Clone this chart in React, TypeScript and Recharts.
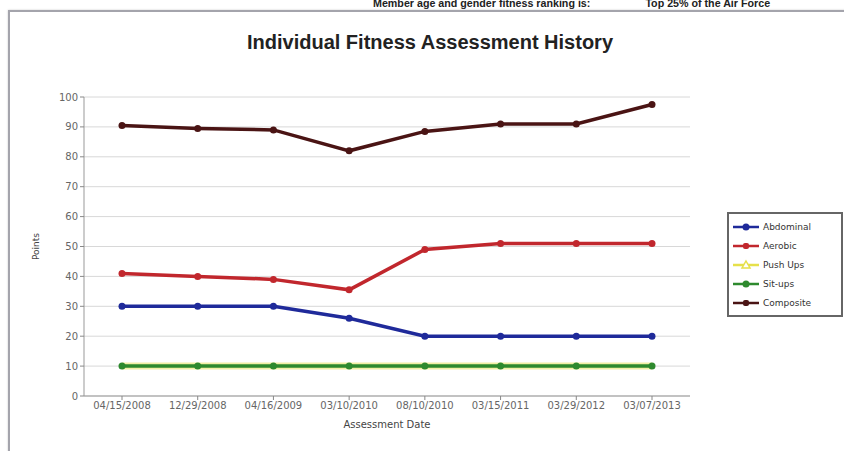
import { LineChart, Line, XAxis, YAxis, CartesianGrid, Label } from "recharts";

// --------------------
// Data
// --------------------
const dates = [
  "04/15/2008",
  "12/29/2008",
  "04/16/2009",
  "03/10/2010",
  "08/10/2010",
  "03/15/2011",
  "03/29/2012",
  "03/07/2013",
];
const abdominal = [30, 30, 30, 26, 20, 20, 20, 20];
const aerobic = [41, 40, 39, 35.5, 49, 51, 51, 51];
const pushUps = [10, 10, 10, 10, 10, 10, 10, 10];
const sitUps = [10, 10, 10, 10, 10, 10, 10, 10];
const composite = [90.5, 89.5, 89, 82, 88.5, 91, 91, 97.5];
const yTicks = [0, 10, 20, 30, 40, 50, 60, 70, 80, 90, 100];

const data = dates.map((d, i) => ({
  date: d,
  abdominal: abdominal[i],
  aerobic: aerobic[i],
  pushUps: pushUps[i],
  sitUps: sitUps[i],
  composite: composite[i],
}));

const series = [
  { key: "abdominal", name: "Abdominal", color: "#1f2a9a", marker: "circle" },
  { key: "aerobic", name: "Aerobic", color: "#c1272d", marker: "square" },
  { key: "pushUps", name: "Push Ups", color: "#e6e04a", marker: "triangle" },
  { key: "sitUps", name: "Sit-ups", color: "#2e8a2e", marker: "circle" },
  { key: "composite", name: "Composite", color: "#4a1414", marker: "square" },
];

const tickFont = { fontSize: 10, fill: "#666", fontFamily: "DejaVu Sans" };

// --------------------
// Markers
// --------------------
function Marker({ cx, cy, color, kind }: { cx?: number; cy?: number; color: string; kind: string }) {
  if (cx == null || cy == null) return null;
  if (kind === "none") return null;
  if (kind === "triangle")
    return <path d={`M${cx},${cy - 4} L${cx + 4},${cy + 3} L${cx - 4},${cy + 3} Z`} fill="#fff" stroke={color} strokeWidth={1.5} />;
  if (kind === "square")
    return <rect x={cx - 3} y={cy - 3} width={6} height={6} rx={2} fill={color} />;
  return <circle cx={cx} cy={cy} r={3.5} fill={color} />;
}

// --------------------
// Legend box
// --------------------
function LegendBox() {
  return (
    <div
      style={{
        position: "absolute",
        left: 727,
        top: 212,
        border: "2px solid #666",
        background: "#fff",
        width: 112,
        padding: "3px 0",
        fontFamily: "DejaVu Sans",
        fontSize: 9,
        color: "#333",
      }}
    >
      {series.map((s) => (
        <div key={s.key} style={{ display: "flex", alignItems: "center", height: 19 }}>
          <svg width={28} height={12} style={{ marginLeft: 3 }}>
            <line x1={1} y1={6} x2={27} y2={6} stroke={s.color} strokeWidth={2.5} />
            <Marker cx={14} cy={6} color={s.color} kind={s.marker} />
          </svg>
          <span style={{ marginLeft: 3 }}>{s.name}</span>
        </div>
      ))}
    </div>
  );
}

// --------------------
// Main chart
// --------------------
export default function App() {
  return (
    <div style={{ position: "absolute", left: 0, top: 0, width: 844, height: 451, background: "#fff", overflow: "hidden" }}>
      <div
        style={{
          position: "absolute",
          top: -3,
          left: 373,
          fontFamily: "Liberation Sans",
          fontWeight: "bold",
          fontSize: 10.7,
          color: "#222",
          whiteSpace: "nowrap",
        }}
      >
        Member age and gender fitness ranking is:
        <span style={{ marginLeft: 55 }}>Top 25% of the Air Force</span>
      </div>
      <div
        style={{
          position: "absolute",
          left: 8,
          top: 10,
          width: 850,
          height: 460,
          border: "2px solid #a4a4ac",
          boxShadow: "0 0 2px #ccc",
        }}
      />
      <div
        style={{
          position: "absolute",
          top: 31,
          left: 0,
          width: 860,
          textAlign: "center",
          fontFamily: "Liberation Sans",
          fontWeight: "bold",
          fontSize: 20,
          color: "#222",
        }}
      >
        Individual Fitness Assessment History
      </div>
      <div style={{ position: "absolute", left: 0, top: 0 }}>
        <LineChart width={844} height={451} data={data} margin={{ top: 97, right: 154, bottom: 35, left: 54 }}>
          <CartesianGrid vertical={false} stroke="#d8d8d8" />
          <XAxis
            dataKey="date"
            padding={{ left: 38, right: 38 }}
            tick={tickFont}
            tickLine={{ stroke: "#888" }}
            tickSize={4}
            axisLine={{ stroke: "#999" }}
            interval={0}
            height={20}
          >
            <Label value="Assessment Date" position="insideBottom" offset={-12} style={{ fontSize: 10, fill: "#444", fontFamily: "DejaVu Sans" }} />
          </XAxis>
          <XAxis xAxisId="top" orientation="top" dataKey="date" tick={false} tickLine={false} axisLine={{ stroke: "#999" }} height={0} />
          <YAxis
            domain={[0, 100]}
            ticks={yTicks}
            interval={0}
            tick={tickFont}
            tickLine={{ stroke: "#888" }}
            tickSize={4}
            axisLine={{ stroke: "#999" }}
            width={30}
          >
            <Label value="Points" angle={-90} position="insideLeft" offset={-18} style={{ fontSize: 9, fill: "#444", fontFamily: "DejaVu Sans", textAnchor: "middle" }} />
          </YAxis>
          <YAxis yAxisId="right" orientation="right" tick={false} tickLine={false} axisLine={{ stroke: "#999" }} width={0} />
          {series.map((s) => (
            <Line
              key={s.key}
              dataKey={s.key}
              name={s.name}
              stroke={s.color}
              strokeWidth={s.key === "pushUps" ? 7 : 3.5}
              strokeOpacity={s.key === "pushUps" ? 0.5 : 1}
              dot={(p: any) => <Marker key={`${s.key}-${p.index}`} cx={p.cx} cy={p.cy} color={s.color} kind={s.key === "pushUps" ? "none" : "circle"} />}
              activeDot={false}
              isAnimationActive={false}
            />
          ))}
        </LineChart>
      </div>
      <LegendBox />
    </div>
  );
}
